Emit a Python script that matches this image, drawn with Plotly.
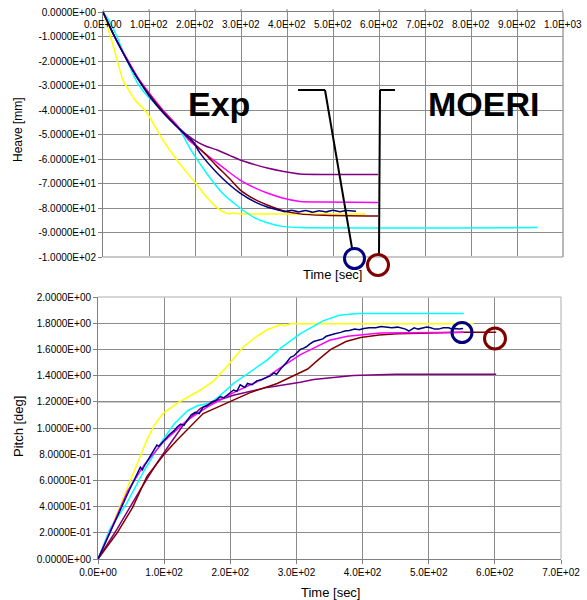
import plotly.graph_objects as go

W, H = 587, 600

# ---------------- Heave (top) data ----------------
heave_yellow_t = [0, 21.7, 43.5, 69.6, 95.7, 130, 165, 196, 225, 254, 270, 276, 281, 298, 428, 570]
heave_yellow_y = [0, -13.5, -27.8, -35.9, -41.2, -52.2, -61.5, -68.6, -75.5, -80.8, -82.2, -82.4, -82.0, -82.4, -82.4, -82.4]

heave_cyan_t = [0, 15, 30, 50, 75, 100, 130, 167, 190, 226, 260, 298, 330, 357, 390, 428, 945]
heave_cyan_y = [0, -4, -10, -19, -29, -35, -40, -48, -56, -66, -74, -80, -84, -86, -87.5, -88, -88]

heave_exp_t = [0, 25, 52, 75, 102, 130, 167, 196, 211, 248, 275, 298, 330, 357, 380, 395, 410, 425, 440, 455, 470, 485, 500, 515, 530, 550]
heave_exp_y = [0, -10, -19.6, -27, -34.7, -41, -48, -53, -57.6, -65.7, -70.5, -73.9, -77.5, -79.6, -80.8, -81.5, -80.9, -81.6, -81.0, -81.7, -81.1, -81.6, -80.9, -81.5, -81.0, -81.3]

heave_moeri_t = [0, 25, 52, 75, 102, 130, 160, 189, 220, 248, 275, 298, 330, 357, 390, 428, 480, 598]
heave_moeri_y = [0, -10, -19.5, -27, -34, -40.5, -46.5, -52, -57.5, -63, -68, -72.6, -76.5, -78.8, -81, -82.4, -83, -83.3]

heave_magenta_t = [0, 25, 52, 75, 102, 130, 160, 185, 220, 248, 275, 298, 330, 357, 390, 428, 480, 598]
heave_magenta_y = [0, -10, -19, -26.5, -33.5, -40, -46, -52, -57.5, -61.6, -65.5, -68.6, -71.8, -73.9, -75.9, -77.3, -77.6, -77.8]

heave_purple_t = [0, 25, 52, 75, 102, 130, 160, 196, 220, 248, 275, 298, 330, 357, 390, 428, 480, 598]
heave_purple_y = [0, -10, -19.5, -27, -34, -40.5, -46.5, -52, -54.5, -56.3, -58.5, -60.4, -62.3, -63.7, -65, -66.1, -66.3, -66.3]

# ---------------- Pitch (bottom) data ----------------
pitch_yellow_t = [0, 23, 45, 68, 74, 85, 98, 120, 155, 175, 195, 220, 240, 256, 276, 283, 291, 306, 568]
pitch_yellow_y = [0, 0.27, 0.55, 0.83, 0.91, 1.02, 1.11, 1.19, 1.29, 1.36, 1.47, 1.62, 1.70, 1.75, 1.79, 1.78, 1.795, 1.795, 1.795]

pitch_cyan_t = [0, 18, 44, 68, 98, 115, 135, 150, 170, 185, 205, 230, 256, 276, 306, 341, 365, 392, 553]
pitch_cyan_y = [0, 0.23, 0.43, 0.66, 0.91, 1.03, 1.13, 1.17, 1.19, 1.25, 1.34, 1.43, 1.52, 1.61, 1.72, 1.82, 1.86, 1.875, 1.875]

pitch_exp_t = [0, 15, 30, 45, 64, 67, 70, 89, 92, 101, 108, 115, 120, 125, 130, 135, 141, 147, 153, 159, 165, 172, 178, 185, 190, 195, 200, 205, 210, 215, 222, 226, 233, 240, 248, 256, 261, 266, 270, 276, 280, 285, 291, 296, 300, 306, 311, 315, 320, 326, 333, 340, 345, 350, 358, 367, 373, 380, 388, 395, 402, 410, 420, 428, 435, 444, 453, 460, 465, 470, 478, 484, 490, 497, 503, 509, 515, 522, 530, 536, 540, 546, 552]
pitch_exp_y = [0, 0.17, 0.33, 0.5, 0.70, 0.68, 0.71, 0.87, 0.86, 0.91, 0.95, 0.98, 1.01, 1.03, 1.02, 1.06, 1.10, 1.12, 1.11, 1.16, 1.17, 1.2, 1.21, 1.24, 1.23, 1.25, 1.27, 1.29, 1.28, 1.33, 1.31, 1.34, 1.33, 1.36, 1.37, 1.39, 1.40, 1.42, 1.41, 1.45, 1.47, 1.50, 1.54, 1.55, 1.57, 1.60, 1.61, 1.62, 1.64, 1.66, 1.67, 1.68, 1.70, 1.71, 1.72, 1.73, 1.74, 1.745, 1.755, 1.75, 1.76, 1.765, 1.765, 1.775, 1.77, 1.765, 1.77, 1.76, 1.755, 1.74, 1.765, 1.755, 1.76, 1.77, 1.765, 1.755, 1.755, 1.765, 1.765, 1.755, 1.76, 1.755, 1.76]

pitch_magenta_t = [0, 23, 45, 70, 100, 135, 165, 205, 256, 276, 306, 326, 350, 377, 427, 553]
pitch_magenta_y = [0, 0.27, 0.52, 0.72, 0.90, 1.06, 1.16, 1.27, 1.39, 1.46, 1.56, 1.61, 1.67, 1.70, 1.725, 1.73]

pitch_moeri_t = [0, 29, 52, 74, 100, 120, 159, 195, 230, 271, 306, 317, 335, 352, 375, 397, 425, 453, 553, 602]
pitch_moeri_y = [0, 0.2, 0.39, 0.63, 0.80, 0.91, 1.11, 1.19, 1.27, 1.34, 1.42, 1.45, 1.53, 1.60, 1.66, 1.69, 1.71, 1.72, 1.73, 1.73]

pitch_purple_t = [0, 29, 64, 90, 109, 130, 155, 180, 205, 256, 306, 326, 386, 450, 602]
pitch_purple_y = [0, 0.23, 0.53, 0.74, 0.88, 1.03, 1.15, 1.21, 1.25, 1.31, 1.35, 1.37, 1.40, 1.41, 1.41]

# ---------------- ticks ----------------
heave_xticks = [i * 100 for i in range(11)]
heave_yticks = [-100, -90, -80, -70, -60, -50, -40, -30, -20, -10, 0]
pitch_xticks = [i * 100 for i in range(8)]
pitch_yticks = [0, 0.2, 0.4, 0.6, 0.8, 1.0, 1.2, 1.4, 1.6, 1.8, 2.0]

YELLOW, CYAN, NAVY, DRED, MAG, PURP = "#FFFF00", "#00FFFF", "#000080", "#800000", "#FF00FF", "#800080"
FONT = "Liberation Sans, Arial, sans-serif"


def px(x):
    return x / W


def py(y):
    return 1 - y / H


fig = go.Figure()

top = [
    (heave_yellow_t, heave_yellow_y, YELLOW),
    (heave_cyan_t, heave_cyan_y, CYAN),
    (heave_purple_t, heave_purple_y, PURP),
    (heave_magenta_t, heave_magenta_y, MAG),
    (heave_moeri_t, heave_moeri_y, DRED),
    (heave_exp_t, heave_exp_y, NAVY),
]
for t, y, c in top:
    fig.add_trace(go.Scatter(x=t, y=y, mode="lines", line=dict(color=c, width=1.5, shape="spline", smoothing=0.5),
                             xaxis="x", yaxis="y", showlegend=False, hoverinfo="skip"))

bot = [
    (pitch_yellow_t, pitch_yellow_y, YELLOW),
    (pitch_cyan_t, pitch_cyan_y, CYAN),
    (pitch_purple_t, pitch_purple_y, PURP),
    (pitch_moeri_t, pitch_moeri_y, DRED),
    (pitch_magenta_t, pitch_magenta_y, MAG),
    (pitch_exp_t, pitch_exp_y, NAVY),
]
for t, y, c in bot:
    fig.add_trace(go.Scatter(x=t, y=y, mode="lines", line=dict(color=c, width=1.5),
                             xaxis="x2", yaxis="y2", showlegend=False, hoverinfo="skip"))

tickfont = dict(family=FONT, size=10, color="#000000")
GRID = "#8c8c8c"

fig.update_layout(
    width=W, height=H, margin=dict(l=0, r=0, t=0, b=0),
    paper_bgcolor="white", plot_bgcolor="white", template="none",
    font=dict(family=FONT, color="#000000"),
    xaxis=dict(domain=[px(103), px(563)], range=[0, 1000], side="top", anchor="y",
               tickvals=heave_xticks, showticklabels=False, ticks="",
               showgrid=True, gridcolor=GRID, gridwidth=1, zeroline=False,
               showline=True, linecolor="#808080", linewidth=1, automargin=False),
    yaxis=dict(domain=[py(257), py(12)], range=[-100, 0], anchor="x",
               tickvals=heave_yticks, ticktext=[f"{v:.4E}" for v in heave_yticks],
               ticks="outside", ticklen=4, tickcolor="#808080", tickfont=tickfont,
               showgrid=True, gridcolor=GRID, gridwidth=1, zeroline=False,
               showline=True, linecolor="#808080", linewidth=1, automargin=False),
    xaxis2=dict(domain=[px(98), px(561)], range=[0, 700], anchor="y2",
                tickvals=pitch_xticks, ticktext=[f"{v:.1E}" for v in pitch_xticks],
                ticks="outside", ticklen=4, tickcolor="#808080", tickfont=tickfont,
                showgrid=True, gridcolor=GRID, gridwidth=1, zeroline=False,
                showline=True, linecolor="#808080", linewidth=1, automargin=False),
    yaxis2=dict(domain=[py(559), py(297)], range=[0, 2], anchor="x2",
                tickvals=pitch_yticks, ticktext=[f"{v:.4E}" for v in pitch_yticks],
                ticks="outside", ticklen=4, tickcolor="#808080", tickfont=tickfont,
                showgrid=True, gridcolor=GRID, gridwidth=1, zeroline=False,
                showline=True, linecolor="#808080", linewidth=1, automargin=False),
)

shapes = []
# frame borders
shapes.append(dict(type="line", xref="x domain", yref="y domain", x0=0, x1=1, y0=0, y1=0,
                   line=dict(color="#c8c8c8", width=2)))
shapes.append(dict(type="line", xref="x domain", yref="y domain", x0=1, x1=1, y0=0, y1=1,
                   line=dict(color="#a0a0a0", width=1.5)))
shapes.append(dict(type="line", xref="x2 domain", yref="y2 domain", x0=0, x1=1, y0=1, y1=1,
                   line=dict(color="#c8c8c8", width=1.5)))
shapes.append(dict(type="line", xref="x2 domain", yref="y2 domain", x0=1, x1=1, y0=0, y1=1,
                   line=dict(color="#c8c8c8", width=1.5)))
# darker 1.2 grid line in the pitch chart
shapes.append(dict(type="line", xref="x2 domain", yref="y2", x0=0, x1=1, y0=1.2, y1=1.2,
                   line=dict(color="#505050", width=1), layer="below"))

# small ticks crossing the top x axis of the heave chart
for v in heave_xticks:
    shapes.append(dict(type="line", xref="x", yref="y domain", x0=v, x1=v, y0=1, y1=1.012,
                       line=dict(color="#808080", width=1)))


# pointer lines (Exp, MOERI)
def seg(x0, y0, x1, y1):
    return dict(type="line", xref="paper", yref="paper", x0=px(x0), y0=py(y0), x1=px(x1), y1=py(y1),
                line=dict(color="#000000", width=2))

shapes += [seg(298, 90, 325, 90), seg(325, 90, 352, 248),
           seg(395, 90, 380, 90), seg(380, 90, 379, 254)]


def circ(cx, cy, r, color):
    return dict(type="circle", xref="paper", yref="paper",
                x0=px(cx - r), x1=px(cx + r), y0=py(cy + r), y1=py(cy - r),
                line=dict(color=color, width=3), fillcolor="rgba(0,0,0,0)")

shapes += [circ(354.5, 258.5, 10, NAVY), circ(378, 265, 10.5, DRED),
           circ(462, 332.5, 10, NAVY), circ(495, 338.5, 10.5, DRED)]

fig.update_layout(shapes=shapes)

ann = [
    dict(text="<b>Exp</b>", x=px(219), y=py(104), font=dict(family=FONT, size=34, color="#000000")),
    dict(text="<b>MOERI</b>", x=px(483), y=py(104), font=dict(family=FONT, size=34, color="#000000")),
    dict(text="Time [sec]", x=px(332), y=py(275), font=dict(family=FONT, size=13)),
    dict(text="Time [sec]", x=px(330), y=py(592), font=dict(family=FONT, size=13)),
    dict(text="Heave [mm]", x=px(18), y=py(130), textangle=-90, font=dict(family=FONT, size=12)),
    dict(text="Pitch [deg]", x=px(18), y=py(427), textangle=-90, font=dict(family=FONT, size=13)),
]
for a in ann:
    a.update(xref="paper", yref="paper", showarrow=False, xanchor="center", yanchor="middle")

# top-axis tick labels of the heave chart (placed just under the axis line at y = 0)
for v in heave_xticks:
    ann.append(dict(text=f"{v:.1E}", x=v, y=0, xref="x", yref="y", showarrow=False,
                    xanchor="center", yanchor="top", yshift=-5, font=tickfont))

fig.update_layout(annotations=ann)

fig.write_html("out.html", config={"displayModeBar": False},
               post_script="document.body.style.margin='0px';")
